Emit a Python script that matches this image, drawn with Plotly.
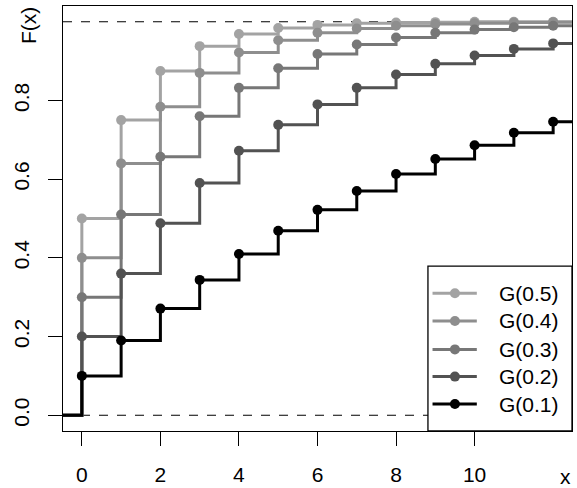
import plotly.graph_objects as go

x_vals = [0, 1, 2, 3, 4, 5, 6, 7, 8, 9, 10, 11, 12]
labels = ["G(0.5)", "G(0.4)", "G(0.3)", "G(0.2)", "G(0.1)"]
cdf_05 = [0.500, 0.750, 0.875, 0.938, 0.969, 0.984, 0.992, 0.996, 0.998, 0.999, 1.000, 1.000, 1.000]
cdf_04 = [0.400, 0.640, 0.784, 0.870, 0.922, 0.953, 0.972, 0.983, 0.990, 0.994, 0.996, 0.998, 0.999]
cdf_03 = [0.300, 0.510, 0.657, 0.760, 0.832, 0.882, 0.918, 0.942, 0.960, 0.972, 0.980, 0.986, 0.990]
cdf_02 = [0.200, 0.360, 0.488, 0.590, 0.672, 0.738, 0.790, 0.832, 0.866, 0.893, 0.914, 0.931, 0.945]
cdf_01 = [0.100, 0.190, 0.271, 0.344, 0.410, 0.469, 0.522, 0.570, 0.613, 0.651, 0.686, 0.718, 0.746]
series = [cdf_05, cdf_04, cdf_03, cdf_02, cdf_01]
colors = ["#a3a3a3", "#8e8e8e", "#777777", "#525252", "#000000"]

x_range = [-0.48, 12.48]
y_range = [-0.04, 1.04]
y_ticks = [0.0, 0.2, 0.4, 0.6, 0.8]
y_ticktext = ["0.0", "0.2", "0.4", "0.6", "0.8"]
x_ticks = [0, 2, 4, 6, 8, 10]

FONT = "Liberation Sans, Arial, Helvetica, sans-serif"
FS = 21
fig = go.Figure()

for lab, ys, col in zip(labels, series, colors):
    xs = [x_range[0] - 1] + x_vals + [x_vals[-1] + 1]
    yl = [0] + ys + [ys[-1]]
    fig.add_trace(go.Scatter(x=xs, y=yl, mode="lines", line=dict(color=col, width=3, shape="hv"),
                             showlegend=False, hoverinfo="skip"))
    fig.add_trace(go.Scatter(x=x_vals, y=ys, mode="markers", name=lab,
                             marker=dict(color=col, size=10), showlegend=False))

for yv in [0, 1]:
    fig.add_shape(type="line", xref="paper", x0=0, x1=1, yref="y", y0=yv, y1=yv,
                  line=dict(color="black", width=1.2, dash="dash"), layer="below")

# manual legend on an overlay axis spanning the plot area (0..1 in both directions)
leg_x0, leg_y1 = 0.717, 0.388
row_y = [0.324, 0.259, 0.192, 0.128, 0.0635]
line_x = [0.726, 0.813]
mark_x = 0.770
text_x = 0.853

fig.add_trace(go.Scatter(x=[leg_x0, 1, 1, leg_x0, leg_x0], y=[0, 0, leg_y1, leg_y1, 0],
                         xaxis="x2", yaxis="y2", mode="lines", fill="toself", fillcolor="white",
                         line=dict(color="black", width=1.3), showlegend=False, hoverinfo="skip"))
for lab, col, ry in zip(labels, colors, row_y):
    fig.add_trace(go.Scatter(x=line_x, y=[ry, ry], xaxis="x2", yaxis="y2", mode="lines",
                             line=dict(color=col, width=3), showlegend=False, hoverinfo="skip"))
    fig.add_trace(go.Scatter(x=[mark_x], y=[ry], xaxis="x2", yaxis="y2", mode="markers",
                             marker=dict(color=col, size=10), showlegend=False, hoverinfo="skip"))
    fig.add_annotation(text=lab, xref="x2", yref="y2", x=text_x, y=ry, showarrow=False,
                       xanchor="left", yanchor="middle", font=dict(size=FS))

fig.update_layout(
    width=577, height=488,
    margin=dict(l=63, r=5, t=6, b=57),
    paper_bgcolor="white", plot_bgcolor="white",
    font=dict(family=FONT, size=FS, color="black"),
    showlegend=False,
    xaxis=dict(range=x_range, tickvals=x_ticks, ticks="outside", ticklen=14, tickwidth=1.3,
               tickcolor="black", showgrid=False, zeroline=False, showline=True, linecolor="black",
               linewidth=1.3, mirror=True, tickfont=dict(size=FS), automargin=False,
               ticklabelstandoff=11),
    yaxis=dict(range=y_range, tickvals=y_ticks, ticktext=y_ticktext,
               ticks="outside", ticklen=14, tickwidth=1.3, tickcolor="black", tickangle=-90,
               showgrid=False, zeroline=False, showline=True, linecolor="black", linewidth=1.3,
               mirror=True, tickfont=dict(size=FS), automargin=False, ticklabelstandoff=10),
    xaxis2=dict(range=[0, 1], overlaying="x", visible=False, fixedrange=True),
    yaxis2=dict(range=[0, 1], overlaying="y", visible=False, fixedrange=True),
)

fig.add_annotation(text="F(x)", xref="paper", yref="paper", x=-0.069, y=0.955, showarrow=False,
                   textangle=-90, font=dict(size=FS), xanchor="center", yanchor="middle")
fig.add_annotation(text="x", xref="paper", yref="paper", x=0.988, y=-0.108, showarrow=False,
                   font=dict(size=FS), xanchor="center", yanchor="middle")

fig.write_html("out.html", config={"displayModeBar": False},
               post_script="document.body.style.margin='0';")
